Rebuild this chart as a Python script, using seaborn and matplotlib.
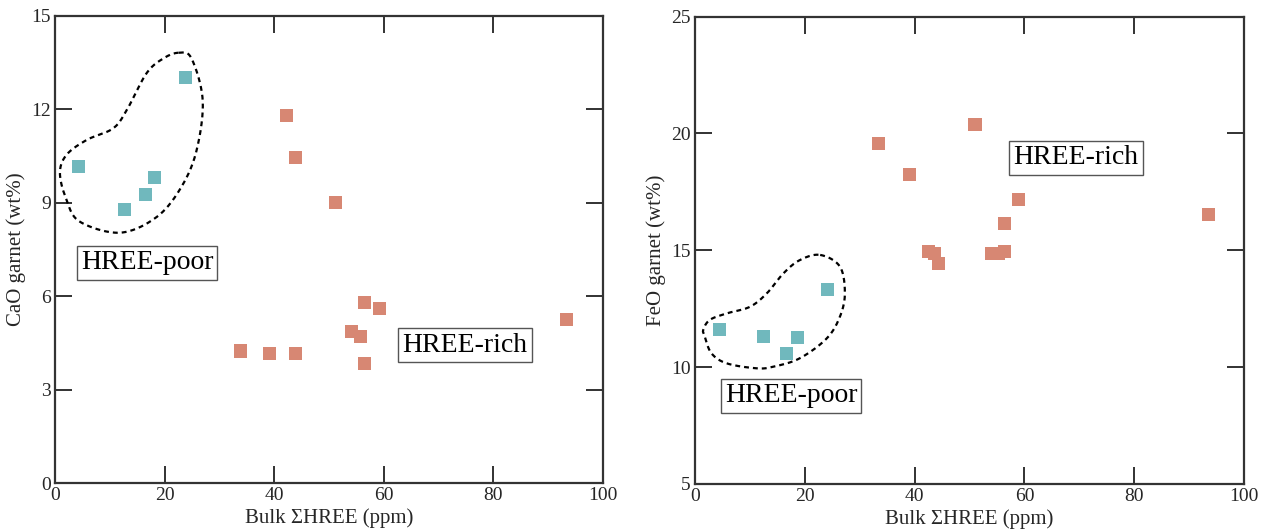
import numpy as np
import pandas as pd
import matplotlib
matplotlib.use("Agg")
import matplotlib.pyplot as plt
import seaborn as sns

# ---------------- data ----------------
# Left panel: CaO garnet (wt%) vs bulk sum HREE (ppm)
cao_poor_x = [4.2, 12.6, 16.6, 18.2, 23.9]
cao_poor_y = [10.18, 8.8, 9.28, 9.8, 13.04]
cao_rich_x = [33.9, 39.1, 42.3, 43.8, 43.8, 51.2, 54.1, 55.7, 56.4, 56.4, 59.2, 93.4]
cao_rich_y = [4.24, 4.17, 11.79, 10.45, 4.17, 9.0, 4.86, 4.72, 5.81, 3.85, 5.61, 5.24]

# Right panel: FeO garnet (wt%) vs bulk sum HREE (ppm)
feo_poor_x = [4.55, 12.45, 16.7, 18.7, 24.1]
feo_poor_y = [11.62, 11.33, 10.59, 11.26, 13.33]
feo_rich_x = [33.5, 39.0, 42.5, 43.7, 44.3, 51.0, 54.0, 55.3, 56.3, 56.3, 58.9, 93.5]
feo_rich_y = [19.58, 18.23, 14.94, 14.87, 14.44, 20.39, 14.87, 14.87, 14.94, 16.15, 17.18, 16.51]

groups = ["HREE-poor", "HREE-rich"]
colors = {"HREE-poor": "#70b8bd", "HREE-rich": "#d78773"}

x_label = "Bulk \u03a3HREE (ppm)"
y_label_left = "CaO garnet (wt%)"
y_label_right = "FeO garnet (wt%)"
x_ticks = [0, 20, 40, 60, 80, 100]
y_ticks_left = [0, 3, 6, 9, 12, 15]
y_ticks_right = [5, 10, 15, 20, 25]

# annotation outlines (hand-drawn envelopes around the HREE-poor group)
blob_left_x = [22.6, 24.9, 26.95, 25.86, 23.1, 18.6, 11.9, 4.56, 2.1, 0.9, 2.1, 5.8, 10.6, 13.1, 16.7, 19.8]
blob_left_y = [13.82, 13.64, 12.30, 10.70, 9.52, 8.55, 8.04, 8.39, 9.09, 9.95, 10.54, 11.02, 11.39, 11.98, 13.16, 13.64]
blob_right_x = [22.8, 26.4, 27.3, 26.4, 24.0, 19.1, 14.3, 11.2, 5.8, 3.0, 1.8, 1.5, 2.7, 5.8, 10.0, 13.1, 16.1, 19.1]
blob_right_y = [14.80, 14.30, 13.16, 12.16, 11.23, 10.38, 10.02, 9.95, 10.16, 10.59, 11.30, 11.59, 12.02, 12.30, 12.58, 13.16, 14.01, 14.58]

# ---------------- style ----------------
sns.set_theme(style="ticks")
plt.rcParams["font.family"] = ["Liberation Serif", "DejaVu Serif"]
plt.rcParams["mathtext.fontset"] = "stix"


def closed_spline(xs, ys, n=30):
    p = np.column_stack([xs, ys])
    m = len(p)
    out = []
    for i in range(m):
        p0, p1, p2, p3 = p[(i - 1) % m], p[i], p[(i + 1) % m], p[(i + 2) % m]
        t = np.linspace(0, 1, n, endpoint=False)[:, None]
        seg = 0.5 * ((2 * p1) + (-p0 + p2) * t + (2 * p0 - 5 * p1 + 4 * p2 - p3) * t ** 2
                     + (-p0 + 3 * p1 - 3 * p2 + p3) * t ** 3)
        out.append(seg)
    out = np.vstack(out)
    out = np.vstack([out, out[:1]])
    return out[:, 0], out[:, 1]


def make_df(px, py, rx, ry):
    return pd.DataFrame({
        "x": list(px) + list(rx),
        "y": list(py) + list(ry),
        "group": [groups[0]] * len(px) + [groups[1]] * len(rx),
    })


fig = plt.figure(figsize=(12.66, 5.30), dpi=100)
ax1 = fig.add_axes([55 / 1266, 1 - 483 / 530, (603 - 55) / 1266, (483 - 16) / 530])
ax2 = fig.add_axes([695 / 1266, 1 - 484 / 530, (1244 - 695) / 1266, (484 - 16.5) / 530])

panels = [
    (ax1, make_df(cao_poor_x, cao_poor_y, cao_rich_x, cao_rich_y), y_label_left, y_ticks_left,
     (0, 15), blob_left_x, blob_left_y, [(16.8, 7.07, "HREE-poor"), (74.8, 4.43, "HREE-rich")]),
    (ax2, make_df(feo_poor_x, feo_poor_y, feo_rich_x, feo_rich_y), y_label_right, y_ticks_right,
     (5, 25), blob_right_x, blob_right_y, [(17.5, 8.77, "HREE-poor"), (69.4, 18.95, "HREE-rich")]),
]

for ax, df, ylab, yt, ylim, bx, by, labels in panels:
    sns.scatterplot(data=df, x="x", y="y", hue="group", palette=colors, marker="s",
                    s=88, edgecolor="none", linewidth=0, legend=False, ax=ax, zorder=3)
    cx, cy = closed_spline(bx, by)
    ax.plot(cx, cy, color="black", lw=1.6, linestyle=(0, (2.2, 1.8)), zorder=2)
    for tx, ty, t in labels:
        ax.text(tx, ty, t, ha="center", va="center", fontsize=20, color="black",
                bbox=dict(boxstyle="square,pad=0.15", facecolor="white", edgecolor="#555555", linewidth=1.0),
                zorder=4)
    ax.set_xlim(0, 100)
    ax.set_ylim(*ylim)
    ax.set_xticks(x_ticks)
    ax.set_yticks(yt)
    ax.set_xlabel(x_label, fontsize=15, labelpad=3)
    ax.set_ylabel(ylab, fontsize=15, labelpad=4)
    ax.tick_params(direction="in", length=12, width=1.3, top=True, right=True,
                   labelsize=14, pad=3, color="#222222")
    for sp in ax.spines.values():
        sp.set_linewidth(1.6)
        sp.set_color("#333333")
        sp.set_visible(True)

fig.savefig("out.png", dpi=100, facecolor="white")
